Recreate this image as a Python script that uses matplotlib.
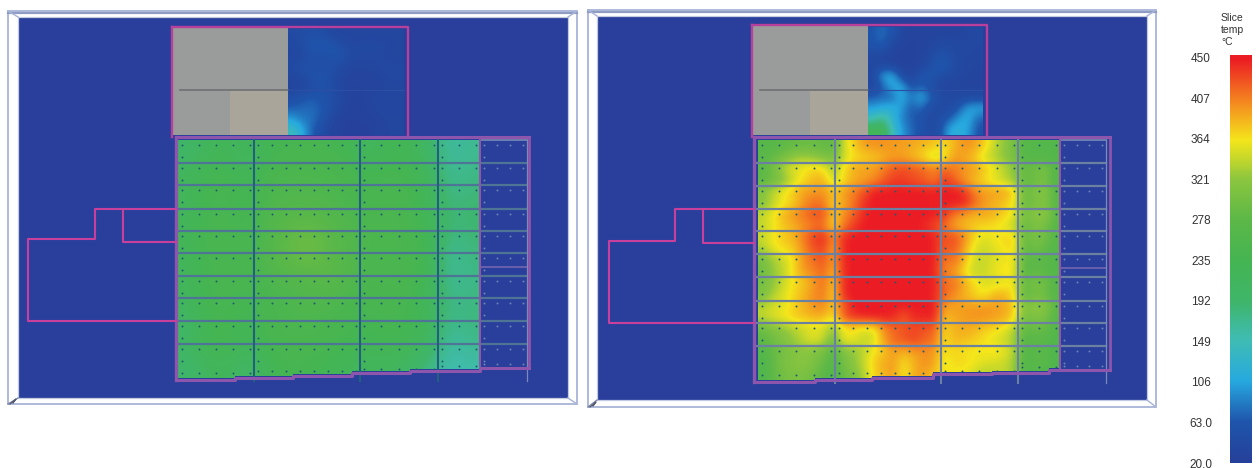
import numpy as np
import matplotlib
matplotlib.use('Agg')
import matplotlib.pyplot as plt
from matplotlib.colors import LinearSegmentedColormap
from matplotlib.patches import Polygon, Rectangle

plt.rcParams['font.family'] = ['Liberation Sans', 'DejaVu Sans']

# colour scale, as on the legend
scale_ticks = [20, 63, 106, 149, 192, 235, 278, 321, 364, 407, 450]
scale_labels = ['20.0', '63.0', '106', '149', '192', '235', '278', '321', '364', '407', '450']
scale_colors = ['#26409a', '#1f55ac', '#27a9e0', '#3fbdb4', '#3fb56a', '#45b552',
                '#5cb848', '#8cc63f', '#f4e61b', '#f58220', '#ec1c24']

# slice temperatures, degC
left_slab = [
    [195, 220, 225, 210, 230, 240, 240, 240, 230, 215, 230, 230, 195, 160, 170],
    [215, 235, 235, 220, 245, 250, 250, 250, 245, 230, 240, 235, 215, 165, 175],
    [220, 240, 240, 230, 250, 255, 255, 250, 245, 240, 245, 240, 220, 175, 185],
    [220, 240, 240, 235, 255, 270, 275, 265, 250, 245, 250, 245, 225, 185, 190],
    [225, 245, 245, 235, 260, 285, 295, 280, 260, 250, 250, 245, 230, 175, 185],
    [220, 240, 245, 240, 260, 285, 290, 280, 260, 245, 250, 245, 230, 160, 180],
    [220, 240, 245, 240, 250, 260, 265, 275, 260, 245, 250, 245, 225, 165, 175],
    [215, 240, 240, 235, 245, 250, 255, 255, 245, 240, 245, 240, 220, 175, 180],
    [200, 235, 240, 225, 245, 250, 250, 245, 240, 235, 240, 235, 215, 170, 180],
    [205, 235, 235, 220, 240, 245, 245, 240, 235, 225, 235, 225, 210, 155, 170],
    [190, 215, 220, 195, 225, 240, 235, 230, 220, 215, 215, 200, 175, 150, 155],
]
right_slab = [
    [270, 270, 280, 285, 290, 290, 285, 280, 350, 375, 395, 400, 400, 395, 395, 390, 385, 380, 370, 385, 400, 395, 375, 345, 320, 300, 270, 265, 265, 265],
    [275, 285, 300, 320, 330, 320, 310, 300, 345, 365, 370, 375, 385, 395, 390, 380, 365, 340, 355, 395, 390, 375, 350, 335, 320, 300, 265, 265, 265, 260],
    [280, 300, 340, 360, 365, 375, 370, 330, 370, 390, 395, 395, 410, 425, 430, 425, 420, 410, 420, 410, 400, 395, 380, 365, 340, 320, 285, 300, 310, 270],
    [275, 290, 310, 345, 365, 380, 385, 345, 365, 385, 390, 400, 420, 435, 435, 425, 420, 405, 435, 420, 395, 380, 365, 350, 340, 320, 280, 290, 300, 265],
    [320, 345, 365, 380, 395, 395, 400, 380, 395, 410, 425, 450, 450, 450, 450, 450, 450, 450, 450, 450, 440, 405, 395, 395, 395, 375, 290, 310, 320, 275],
    [310, 340, 360, 370, 395, 415, 410, 370, 390, 410, 440, 450, 450, 450, 450, 450, 450, 445, 450, 450, 450, 420, 395, 385, 375, 360, 285, 300, 310, 270],
    [345, 365, 385, 400, 415, 425, 430, 375, 400, 420, 445, 450, 450, 450, 450, 450, 450, 450, 440, 410, 395, 385, 390, 385, 375, 360, 300, 320, 325, 280],
    [340, 360, 375, 385, 395, 410, 410, 365, 410, 435, 450, 450, 450, 450, 450, 450, 445, 430, 415, 390, 380, 375, 370, 365, 355, 340, 285, 305, 300, 270],
    [345, 365, 375, 385, 410, 435, 445, 405, 445, 450, 450, 450, 450, 450, 450, 450, 450, 450, 425, 430, 405, 370, 355, 365, 370, 375, 285, 310, 300, 270],
    [335, 360, 370, 375, 400, 425, 435, 385, 445, 450, 450, 450, 450, 450, 450, 450, 450, 445, 420, 425, 390, 355, 345, 355, 365, 370, 280, 295, 285, 265],
    [300, 330, 345, 365, 400, 415, 425, 395, 445, 450, 450, 450, 450, 450, 450, 450, 450, 450, 410, 415, 385, 350, 345, 355, 360, 365, 275, 280, 275, 265],
    [295, 325, 340, 370, 395, 405, 420, 380, 445, 450, 450, 450, 450, 450, 450, 450, 450, 445, 405, 395, 365, 340, 345, 360, 370, 360, 270, 280, 275, 262],
    [300, 320, 345, 365, 375, 395, 415, 375, 445, 450, 450, 450, 450, 450, 450, 450, 450, 450, 415, 415, 390, 370, 355, 350, 355, 365, 285, 310, 300, 270],
    [305, 335, 355, 370, 385, 400, 410, 370, 445, 450, 450, 450, 450, 450, 450, 450, 450, 445, 420, 400, 385, 370, 360, 385, 385, 365, 275, 295, 290, 265],
    [335, 350, 355, 370, 385, 400, 405, 375, 420, 450, 450, 450, 450, 450, 450, 450, 450, 450, 395, 395, 395, 395, 395, 395, 390, 375, 310, 325, 320, 280],
    [345, 355, 365, 375, 380, 385, 385, 365, 425, 440, 450, 450, 450, 445, 420, 445, 445, 450, 380, 390, 395, 400, 400, 395, 390, 370, 300, 310, 305, 270],
    [290, 310, 320, 335, 345, 355, 350, 320, 360, 365, 350, 355, 400, 415, 425, 430, 425, 420, 370, 385, 390, 385, 375, 370, 360, 340, 280, 290, 290, 265],
    [280, 295, 310, 325, 345, 360, 345, 300, 365, 360, 345, 350, 395, 420, 425, 435, 420, 415, 365, 385, 380, 375, 365, 355, 345, 325, 270, 275, 270, 255],
    [265, 285, 300, 310, 315, 310, 300, 270, 310, 320, 340, 365, 375, 395, 385, 395, 400, 395, 365, 370, 365, 360, 365, 370, 360, 340, 265, 275, 275, 255],
    [255, 285, 305, 315, 320, 310, 290, 265, 300, 320, 345, 375, 390, 395, 365, 385, 400, 395, 355, 370, 370, 365, 355, 350, 345, 325, 260, 275, 275, 250],
    [255, 280, 300, 305, 305, 295, 275, 260, 290, 305, 335, 370, 385, 395, 360, 390, 395, 375, 365, 360, 360, 345, 335, 340, 345, 330, 260, 265, 262, 250],
]
left_annex = [
    [42, 48, 52, 48, 38, 34, 34, 34, 34, 34, 34, 34],
    [38, 48, 62, 68, 62, 48, 38, 38, 42, 38, 38, 34],
    [34, 38, 58, 48, 58, 62, 42, 38, 38, 38, 34, 34],
    [42, 58, 48, 48, 52, 42, 34, 34, 34, 38, 38, 38],
    [34, 42, 58, 62, 48, 34, 30, 30, 30, 34, 38, 38],
    [30, 34, 42, 58, 48, 34, 28, 28, 28, 30, 34, 34],
    [52, 62, 68, 58, 52, 38, 28, 26, 34, 38, 34, 34],
    [68, 74, 74, 68, 48, 34, 26, 26, 30, 38, 38, 38],
    [100, 80, 78, 62, 38, 26, 24, 26, 26, 30, 34, 34],
    [145, 110, 68, 48, 30, 24, 24, 24, 24, 30, 34, 34],
]
right_annex = [
    [62, 75, 62, 38, 30, 30, 30, 30, 30, 30, 38, 38],
    [62, 75, 42, 30, 26, 30, 34, 38, 42, 38, 38, 38],
    [42, 38, 30, 26, 26, 30, 38, 58, 48, 38, 38, 34],
    [38, 34, 30, 26, 26, 34, 48, 74, 58, 38, 34, 34],
    [38, 105, 115, 48, 30, 58, 68, 48, 42, 38, 34, 30],
    [34, 64, 110, 110, 58, 68, 52, 34, 30, 30, 30, 30],
    [68, 74, 68, 115, 80, 115, 74, 48, 42, 42, 42, 42],
    [100, 110, 120, 100, 64, 74, 48, 42, 38, 64, 105, 110],
    [145, 175, 125, 88, 68, 58, 38, 48, 68, 100, 115, 68],
    [225, 230, 150, 100, 74, 58, 42, 52, 110, 120, 100, 58],
]

# drawing layout, in picture pixels
left_cols = [178, 254, 360, 438, 480, 527]
left_rows = [140, 163, 185, 209, 231, 253, 276, 298, 321, 344]
left_steps = [(178, 378), (235, 376), (293, 374), (352, 371), (410, 369), (480, 366)]
right_cols = [758, 835, 941, 1018, 1060, 1106]
right_rows = [140, 163, 186, 209, 231, 254, 277, 301, 323, 346]
right_steps = [(758, 380), (815, 378), (872, 376), (933, 372), (992, 371), (1049, 368)]
sensors = [5, 8, 5, 3, 4]

BLUE = '#293f9b'
PINK = '#b8409c'
PURPLE = '#8d55ab'
FRAME = '#a8b4d8'

cmap = LinearSegmentedColormap.from_list(
    'slice', [((t - 20) / 430, c) for t, c in zip(scale_ticks, scale_colors)])

fig = plt.figure(figsize=(12.59, 4.68), dpi=100)
ax = fig.add_axes([0, 0, 1, 1])
ax.axis('off')


def draw_panel(outer, inner, annex, main, wing, cols, rows, steps, slab, heat, vcolor, hcolor):
    x0, y0, x1, y1 = outer
    a, b, c, d = inner
    ax.add_patch(Rectangle((a, b), c - a, d - b, fc=BLUE, ec='none', zorder=1))
    ax.plot([x0, x1, x1, x0, x0], [y0, y0, y1, y1, y0], color=FRAME, lw=1.3, zorder=2)
    ax.plot([x0, x1], [y0 + 2, y0 + 2], color='#8f9cc4', lw=1.6, zorder=2)
    ax.plot([a, c, c, a, a], [b, b, d, d, b], color='#c3cbe3', lw=0.9, zorder=2)
    ax.plot([x0, a], [y0, b], color=FRAME, lw=1.0, zorder=2)
    ax.plot([x1, c], [y0, b], color=FRAME, lw=1.0, zorder=2)
    ax.plot([x1, c], [y1, d], color=FRAME, lw=1.0, zorder=2)
    ax.plot([x0, a], [y1, d], color='#7f88a8', lw=1.0, zorder=2)
    ax.plot([x0 + 2, x0 + 8, x0 + 5], [y1, y1 - 5, y1 - 1], color='#555a70', lw=0.9, zorder=2)

    # annex: grey roof part and the measured part
    ax_l, ax_t, ax_r, ax_b = annex
    mid = ax_l + 116
    ax.add_patch(Rectangle((ax_l, ax_t), 116, ax_b - ax_t, fc='#9a9c9c', ec='none', zorder=3))
    ax.add_patch(Rectangle((ax_l + 58, 91), 58, ax_b - 91, fc='#a9a59a', ec='none', zorder=3))
    ax.plot([ax_l + 8, mid], [90, 90], color='#6f7072', lw=1.2, zorder=4)
    ax.imshow(heat, cmap=cmap, vmin=20, vmax=450, interpolation='bicubic', aspect='auto',
              extent=(mid, ax_r - 4, ax_b, ax_t + 2), zorder=3)
    ax.plot([mid, ax_r - 4], [90, 90], color='#2c4fa4', lw=0.8, zorder=4)
    ax.plot([ax_l, ax_r, ax_r], [ax_t, ax_t, ax_b + 2], color=PINK, lw=1.7, zorder=6)
    ax.plot([ax_l, ax_l], [ax_t, ax_b + 2], color=PINK, lw=1.7, zorder=6)

    # slab field, stepped along its lower edge
    edge = [(cols[0], rows[0]), (cols[4], rows[0])]
    edge.append((cols[4], steps[-1][1]))
    for i in range(len(steps) - 1, -1, -1):
        x_s, y_s = steps[i]
        edge.append((steps[i + 1][0] if i + 1 < len(steps) else cols[4], y_s))
        edge.append((x_s, y_s))
    clip = Polygon(edge, closed=True, transform=ax.transData, fc='none', ec='none')
    ax.add_patch(clip)
    im = ax.imshow(slab, cmap=cmap, vmin=20, vmax=450, interpolation='bicubic', aspect='auto',
                   extent=(cols[0], cols[4], steps[0][1], rows[0]), zorder=3)
    im.set_clip_path(clip)

    # grid of slabs
    for y in rows[1:]:
        ax.plot([cols[0] - 2, cols[5]], [y, y], color=hcolor, lw=1.6, zorder=5)
    ax.plot([cols[4], cols[5]], [rows[0], rows[0]], color='#6f7fb0', lw=1.4, zorder=5)
    ax.plot([cols[4], cols[5]], [rows[6] - 9, rows[6] - 9], color='#7a6ab0', lw=1.1, zorder=5)
    for x in cols[1:4]:
        ax.plot([x, x], [rows[0], steps[-1][1] + 15], color=vcolor, lw=1.5, zorder=5)
    ax.plot([cols[4], cols[4]], [rows[0], steps[-1][1]], color=PURPLE, lw=1.5, zorder=5)
    ax.plot([cols[5], cols[5]], [rows[0], steps[-1][1] + 15], color='#7f88bb', lw=0.9, zorder=5)

    # thermocouple positions
    for i in range(5):
        xs = np.linspace(cols[i] + 4, cols[i + 1] - 4, sensors[i])
        col = '#1f5a70' if i < 4 else '#6f82b8'
        for y in rows:
            ax.scatter(xs, [y + 5] * len(xs), s=2.0, color=col, lw=0, zorder=6)
            ax.scatter([cols[i] + 4], [y + 17], s=2.0, color=col, lw=0, zorder=6)
        ax.scatter(xs, [steps[i][1] - 5] * len(xs), s=2.0, color=col, lw=0, zorder=6)

    # building outline
    m_l, m_t, m_r = main
    low = [(m_l, steps[0][1] + 2)]
    for i in range(1, len(steps)):
        low.append((steps[i][0], steps[i - 1][1] + 2))
        low.append((steps[i][0], steps[i][1] + 2))
    low.append((m_r, steps[-1][1] + 2))
    ax.plot([p[0] for p in low], [p[1] for p in low], color=PURPLE, lw=2.2, zorder=6)
    ax.plot([m_l, m_l], [m_t, steps[0][1] + 2], color=PURPLE, lw=2.4, zorder=6)
    ax.plot([m_r, m_r], [m_t, steps[-1][1] + 2], color=PURPLE, lw=2, zorder=6)
    ax.plot([m_l, m_r], [m_t, m_t], color=PURPLE, lw=2.2, zorder=6)
    ax.plot(wing[0], wing[1], color='#c8409c', lw=1.5, zorder=6)
    ax.plot(wing[2], wing[3], color='#c8409c', lw=1.5, zorder=6)


draw_panel((8, 11, 577, 404), (18, 17, 568, 398), (172, 27, 408, 135), (176, 137, 529),
           ([176, 95, 95, 28, 28, 176], [209, 209, 239, 239, 321, 321], [123, 123, 176], [209, 242, 242]),
           left_cols, left_rows, left_steps, left_slab, left_annex, '#22607f', '#4f7596')
draw_panel((588, 10, 1156, 407), (597, 16, 1147, 400), (752, 25, 987, 135), (754, 137, 1110),
           ([754, 675, 675, 609, 609, 754], [209, 209, 241, 241, 323, 323], [703, 703, 754], [209, 243, 243]),
           right_cols, right_rows, right_steps, right_slab, right_annex, '#6c80a2', '#6c80a2')

ax.set_xlim(0, 1259)
ax.set_ylim(468, 0)

# legend bar
cax = fig.add_axes([1230 / 1259, 1 - 463 / 468, 22 / 1259, 408 / 468])
cax.imshow(np.linspace(453, 20, 256).reshape(-1, 1), cmap=cmap, vmin=20, vmax=450,
           aspect='auto', extent=(0, 1, 20, 453))
cax.set_xticks([])
cax.set_yticks(scale_ticks)
cax.set_yticklabels(scale_labels, fontsize=8.5, color='#333333', ha='center')
cax.tick_params(axis='y', length=0, pad=21)
for s in cax.spines.values():
    s.set_visible(False)

ax.text(1221, 18, 'Slice', fontsize=7.5, color='#333333', va='center', ha='left')
ax.text(1221, 30, 'temp', fontsize=7.5, color='#333333', va='center', ha='left')
ax.text(1221, 42, '°C', fontsize=7.5, color='#333333', va='center', ha='left')

plt.savefig('out.png', dpi=100)
